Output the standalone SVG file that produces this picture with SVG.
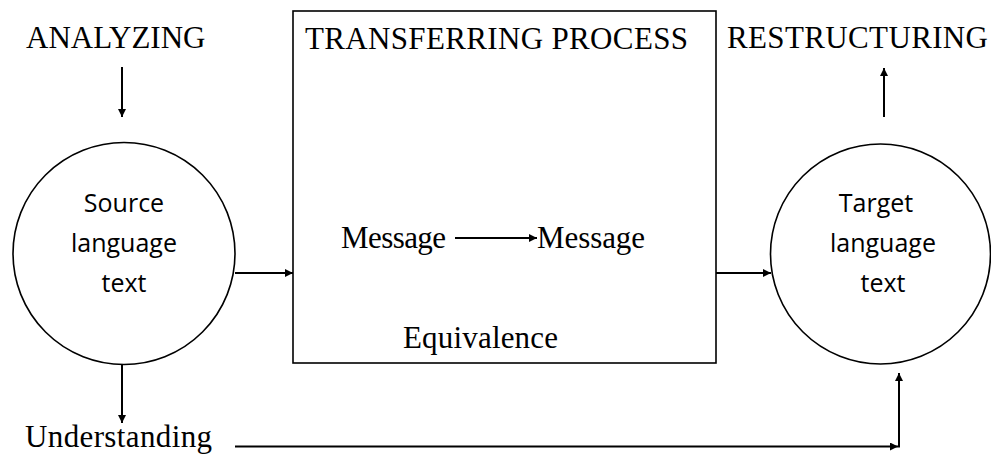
<svg xmlns="http://www.w3.org/2000/svg" width="991" height="454" viewBox="0 0 991 454">
  <defs>
    <marker id="arrow" viewBox="0 0 10 10" refX="10" refY="5" markerWidth="10" markerHeight="8" markerUnits="userSpaceOnUse" orient="auto">
      <path d="M0,0 L10,5 L0,10 z" fill="#000"/>
    </marker>
    <style>
      .serif { font-family: "Liberation Serif", "Times New Roman", serif; font-size: 31px; fill: #000; }
      .sans { font-family: "Open Sans", "Noto Sans", sans-serif; font-size: 25px; fill: #000; text-anchor: middle; }
      .node { fill: #fff; stroke: #000; stroke-width: 1.6; }
      .conn { fill: none; stroke: #000; stroke-width: 2; }
    </style>
  </defs>
  <rect width="991" height="454" fill="#fff"/>

  <!-- stage labels -->
  <g id="analyzing"><text class="serif" x="26" y="48">ANALYZING</text></g>
  <g id="restructuring"><text class="serif" x="727" y="48" textLength="261" lengthAdjust="spacing">RESTRUCTURING</text></g>
  <g id="understanding"><text class="serif" x="25" y="447" textLength="187" lengthAdjust="spacing">Understanding</text></g>

  <!-- transfer box -->
  <g id="transfer">
    <rect class="node" x="293" y="11" width="423" height="352" stroke-width="2"/>
    <text class="serif" x="305" y="49" textLength="383" lengthAdjust="spacing">TRANSFERRING PROCESS</text>
    <text class="serif" x="341" y="248" textLength="105" lengthAdjust="spacing">Message</text>
    <text class="serif" x="537" y="248" textLength="108" lengthAdjust="spacing">Message</text>
    <text class="serif" x="403" y="348" textLength="155" lengthAdjust="spacing">Equivalence</text>
  </g>

  <!-- source text -->
  <g id="source">
    <circle class="node" cx="124" cy="253.5" r="111"/>
    <text class="sans" x="124" y="212">Source</text>
    <text class="sans" x="124" y="252">language</text>
    <text class="sans" x="124" y="292">text</text>
  </g>

  <!-- target text -->
  <g id="target">
    <circle class="node" cx="880.5" cy="254" r="110"/>
    <text class="sans" x="876" y="212">Target</text>
    <text class="sans" x="883" y="252">language</text>
    <text class="sans" x="883" y="292">text</text>
  </g>

  <!-- connectors -->
  <g id="connectors">
    <line class="conn" x1="122" y1="67" x2="122" y2="117" marker-end="url(#arrow)"/>
    <line class="conn" x1="884" y1="117" x2="884" y2="68" marker-end="url(#arrow)"/>
    <line class="conn" x1="235" y1="273" x2="293" y2="273" marker-end="url(#arrow)"/>
    <line class="conn" x1="716" y1="273" x2="771" y2="273" marker-end="url(#arrow)"/>
    <line class="conn" x1="455" y1="238" x2="537" y2="238" marker-end="url(#arrow)"/>
    <line class="conn" x1="122" y1="364" x2="122" y2="423" marker-end="url(#arrow)"/>
    <line class="conn" x1="235" y1="446.5" x2="898" y2="446.5" marker-end="url(#arrow)"/>
    <line class="conn" x1="899" y1="447.5" x2="899" y2="373" marker-end="url(#arrow)"/>
  </g>
</svg>
